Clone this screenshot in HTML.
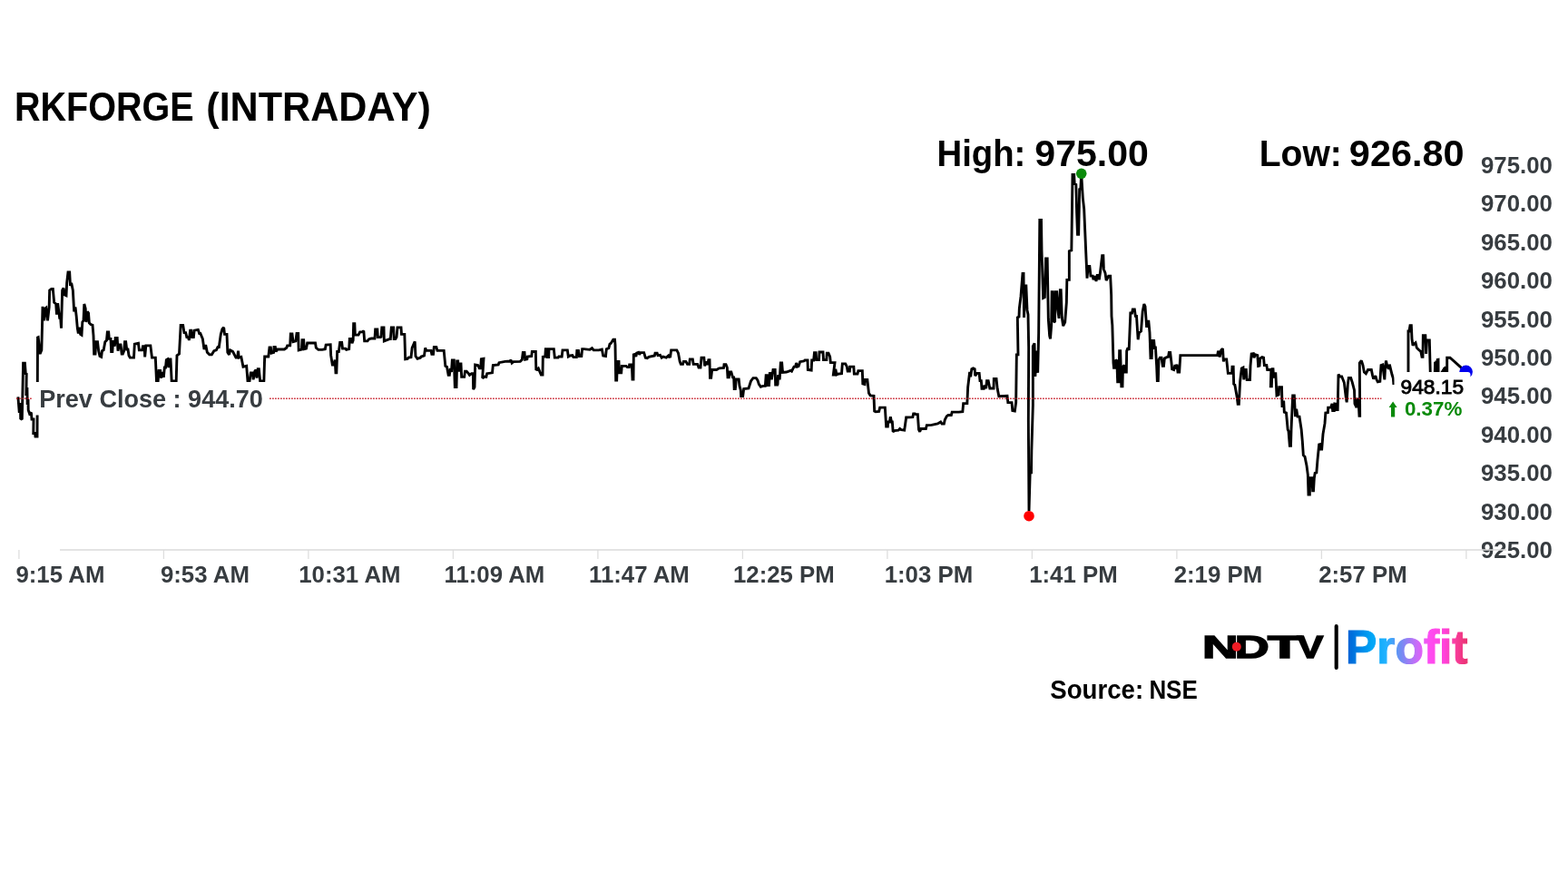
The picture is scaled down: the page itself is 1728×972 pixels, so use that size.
<!DOCTYPE html>
<html lang="en">
<head>
<meta charset="utf-8">
<title>RKFORGE (INTRADAY)</title>
<style>
html,body{margin:0;padding:0;background:#fff;}
body{width:1728px;height:972px;overflow:hidden;font-family:"Liberation Sans", sans-serif;}
svg{display:block;}
text{font-family:"Liberation Sans", sans-serif;}
.b{font-weight:700;}
.ax{font-weight:700;font-size:25.8px;fill:#373c40;}
</style>
</head>
<body>
<svg width="1728" height="972" viewBox="0 0 1728 972">
<defs>
<linearGradient id="pg" x1="1485" y1="0" x2="1618" y2="0" gradientUnits="userSpaceOnUse">
<stop offset="0" stop-color="#0062d6"/>
<stop offset="0.2" stop-color="#00a6f6"/>
<stop offset="0.32" stop-color="#22b2ff"/>
<stop offset="0.43" stop-color="#6a90f2"/>
<stop offset="0.58" stop-color="#cc6af8"/>
<stop offset="0.68" stop-color="#ff4cf2"/>
<stop offset="0.8" stop-color="#ff42dc"/>
<stop offset="0.9" stop-color="#f83c9a"/>
<stop offset="1" stop-color="#e8306c"/>
</linearGradient>
</defs>
<rect width="1728" height="972" fill="#fff"/>
<text class="b" y="133.3" font-size="45.2" fill="#000"><tspan x="15.99" textLength="197.65" lengthAdjust="spacingAndGlyphs">RKFORGE</tspan> <tspan x="227.29" textLength="247.52" lengthAdjust="spacingAndGlyphs">(INTRADAY)</tspan></text>
<text class="b" y="182.5" font-size="40" fill="#000"><tspan x="1032.47" textLength="97.90" lengthAdjust="spacingAndGlyphs">High:</tspan> <tspan x="1140.30" textLength="125.56" lengthAdjust="spacingAndGlyphs">975.00</tspan></text>
<text class="b" y="182.5" font-size="40" fill="#000"><tspan x="1387.73" textLength="91.00" lengthAdjust="spacingAndGlyphs">Low:</tspan> <tspan x="1486.89" textLength="126.79" lengthAdjust="spacingAndGlyphs">926.80</tspan></text>
<path d="M20.9 606V616M180.4 606V616M339.9 606V616M499.4 606V616M658.9 606V616M818.4 606V616M977.9 606V616M1137.4 606V616M1296.9 606V616M1456.4 606V616M1615.9 606V616" stroke="#dedede" stroke-width="1.3" fill="none"/>
<text class="ax" x="66.4" y="641.5" text-anchor="middle">9:15 AM</text>
<text class="ax" x="225.9" y="641.5" text-anchor="middle">9:53 AM</text>
<text class="ax" x="385.4" y="641.5" text-anchor="middle">10:31 AM</text>
<text class="ax" x="544.9" y="641.5" text-anchor="middle">11:09 AM</text>
<text class="ax" x="704.4" y="641.5" text-anchor="middle">11:47 AM</text>
<text class="ax" x="863.9" y="641.5" text-anchor="middle">12:25 PM</text>
<text class="ax" x="1023.4" y="641.5" text-anchor="middle">1:03 PM</text>
<text class="ax" x="1182.9" y="641.5" text-anchor="middle">1:41 PM</text>
<text class="ax" x="1342.4" y="641.5" text-anchor="middle">2:19 PM</text>
<text class="ax" x="1501.9" y="641.5" text-anchor="middle">2:57 PM</text>
<text class="ax" x="1632" y="191.0">975.00</text>
<text class="ax" x="1632" y="233.4">970.00</text>
<text class="ax" x="1632" y="275.8">965.00</text>
<text class="ax" x="1632" y="318.2">960.00</text>
<text class="ax" x="1632" y="360.6">955.00</text>
<text class="ax" x="1632" y="403.0">950.00</text>
<text class="ax" x="1632" y="445.4">945.00</text>
<text class="ax" x="1632" y="487.8">940.00</text>
<text class="ax" x="1632" y="530.2">935.00</text>
<text class="ax" x="1632" y="572.6">930.00</text>
<text class="ax" x="1632" y="615.0">925.00</text>
<path d="M66 606H1660" stroke="#dadada" stroke-width="1.6" fill="none"/>
<path d="M19.9 437.3 L21.3 455 L22.4 444 L22.7 461.3 L24.3 462.3 L25.6 400.3 L27.4 400.3 L28.3 412 L29.2 412.3 L28.9 436 L29.9 427 L30.2 446 L31 440 L31.2 452 L32.6 456 L34.4 454.5 L35 462 L37 462 L36.8 477.5 L38.5 477.5 L39 481 L41 481 L41.3 421 L41.5 372 L42.17 371.67 L44.17 390 L45.83 385.83 L47 337.83 L48.67 353.33 L49.67 340 L50.83 339.17 L52.5 353.33 L54.17 338.33 L54.67 320 L56.67 318.33 L58.33 318.33 L59.67 333.33 L61.67 335 L62.5 346.67 L63.67 334.17 L65.83 351.67 L66.33 345 L67.5 361.67 L68.67 320 L70 317.5 L71.33 325 L73 325.83 L73.67 311.67 L75 300 L76.67 300 L77.5 315 L78.67 311.67 L80.33 320 L81.67 343.33 L83 338.33 L84.17 348.33 L85.33 361.67 L86.33 367.5 L87.5 360.83 L88.67 368.33 L90 369.17 L90.83 355 L92 353.33 L92.83 335 L94.17 340 L95 355 L96.33 343.33 L97.5 345 L98.33 355.83 L100 357.5 L102 358.33 L103 370 L103.67 390 L105 390 L105.83 376.67 L107.5 376.67 L108.67 386.67 L110 392.5 L111.67 393.33 L112.5 386.67 L114.17 385.83 L115.83 376.67 L117.5 375 L118.33 365.83 L119.67 365.83 L120.33 373.33 L122 373.33 L122.67 387.5 L123.83 387.5 L124.67 375 L126.33 381.67 L127.17 372.5 L129.17 372.5 L130 386.67 L131.33 380 L133 380 L134.17 390 L135.33 390 L136.67 386.67 L137.5 376.67 L138.67 376.67 L139.67 385 L141 385 L142 391.67 L143.33 394.17 L147.5 394.17 L148.33 379.17 L152.5 378.33 L153.33 385.83 L156.67 385.83 L157.5 381.67 L159.17 381.67 L159.67 393.33 L160.83 380.83 L165.83 380.83 L167.5 394.17 L171.33 394.17 L172.5 420 L174.17 420 L175 408.33 L176.67 408.33 L177.5 416.67 L179.17 410 L180.33 415.83 L181.33 405 L182.5 405 L183.33 396.67 L184.67 395.83 L185.83 405 L186.67 395.83 L188 395.83 L189.17 420 L194.17 420 L195 391.67 L197.5 390 L199.17 358.33 L201.67 358.33 L203 366.67 L204.67 366.67 L205.83 371.67 L207.5 371.67 L208.33 375 L209.67 364.17 L210.83 364.17 L211.67 371.67 L213.33 371.67 L214.17 364.17 L218.33 363.33 L219.67 367.5 L220.83 367.5 L223.33 373.33 L225 385 L226.67 380 L228.33 388.33 L230.83 390.83 L233.33 390.83 L235.83 386.67 L238.33 385.83 L240 382.5 L241.33 382.5 L243.33 368.33 L245 362.5 L246.67 360.83 L247.5 368.33 L250 368.33 L250.83 388.33 L252.5 390.83 L253.67 385.83 L256.67 387.5 L258.33 390.83 L260 394.17 L261.67 394.17 L262.5 386.67 L263.33 394.17 L265.83 393.33 L268 404.17 L271.67 403.33 L273 420 L275 420 L276.33 410.83 L278.33 410.83 L279.17 418.33 L280.83 409.17 L282 407.5 L283 416.67 L284.17 406.67 L285.33 406.67 L286.67 420 L290 420 L290.83 420.83 L291.67 393 L295.83 393 L297 383 L298.33 383 L299.17 389.17 L301.67 388.33 L302 382.5 L303.33 382.5 L304.17 387.5 L305.83 385 L313.33 385 L315.83 383.33 L316.67 380.83 L319.67 380.83 L320.33 368 L322 368 L323 376.67 L325.83 375.83 L327 367.5 L328.67 367.5 L329.17 385.83 L332.5 385 L333 374.67 L334.67 374.67 L335.33 384.67 L337.5 384.17 L338.67 378 L347.5 378 L348.33 383.33 L350.83 385.33 L355 385.33 L358.33 384.67 L359.17 380 L364.17 379.67 L364.67 391.67 L366.33 402 L368 402 L369.17 396.67 L370 410.83 L370.83 410.83 L371.67 387.5 L373.33 387.5 L374.67 377.5 L376.67 377.5 L377.5 384.17 L380.83 384.17 L381.67 385.33 L384.67 384.67 L385.33 373.33 L387 373.33 L388 378.33 L389.17 375 L389.67 356.67 L390.83 356.67 L391.33 369.17 L395 369.17 L396.67 365.83 L399.17 365.83 L400.83 364.67 L401.67 375.83 L405 375.83 L406.67 373.67 L409.17 373 L413 373 L413.67 363 L415.83 363 L416.33 371.67 L419.17 371.67 L420 371.33 L420.83 360.83 L423 360.83 L423.33 375.83 L429.17 373.67 L430.33 373.67 L431.33 360.83 L433.67 360.83 L434.17 373.67 L435.83 373.67 L437 371.67 L438 360.83 L442 360.83 L442.5 368.33 L445.83 368.33 L446.67 395.83 L449.17 395.33 L450 394.17 L453 393.67 L454.17 383.33 L457.17 376.33 L458 392.5 L460 395.33 L463.33 394.17 L464.17 393 L467.5 392 L468.67 383.33 L469.67 386.33 L475 386.33 L475.83 390.33 L477.5 390.33 L478.33 382.5 L480.83 382.5 L482 386.33 L489.17 386.33 L490.83 403.33 L492.5 404.17 L494.17 413.33 L495.33 413.33 L496.33 405.83 L497.5 410 L498.33 397 L500.33 397 L501.33 426.67 L503 426.67 L503.67 398 L504.67 398 L505 408.33 L506.33 408.33 L507 400.83 L508 400.83 L508.67 415.33 L511.67 415.33 L512.5 409.17 L514.17 409.17 L516.33 411.67 L517.5 413.33 L519.67 411.67 L521.33 411.67 L521.67 429.17 L523 426.67 L523.67 402 L526.67 402.5 L528.33 405.83 L529.67 405.83 L530.33 395.83 L533 395.33 L531.67 416.67 L534.17 415 L535.83 415.33 L536.67 411.67 L542.5 410.83 L543.33 402.5 L549.17 402 L550 399.67 L556.67 398.33 L562 398 L563 396.67 L564.17 400 L565.83 398.67 L573.33 398.33 L575.33 396.33 L576.33 388.33 L578 388.33 L578 388.33 L578.67 396.33 L580.83 395.83 L581.33 393 L585.83 392.5 L586.33 387.5 L590.33 387.5 L590.83 408 L593.33 405.83 L595 410 L596.33 413 L598 413 L598.33 393.33 L600.83 393 L601.33 384.67 L603 384.67 L603.33 393.67 L604.67 393.67 L605 384.67 L610.33 384.67 L611.33 394.17 L615 394.17 L615.83 393 L619.17 393 L620 385.83 L625.33 385.83 L626.33 393 L628.33 392 L630.83 391.67 L632 393.67 L635.33 393.67 L635.83 386.33 L637.5 386.33 L638.33 392.5 L640.83 392.5 L641.67 384.67 L643.33 384.67 L650 385.33 L652.5 383.67 L654.17 385.83 L660 385.83 L663.33 385 L664.67 392 L667.5 392.5 L668.33 384.67 L670.83 383.67 L672 379.17 L673.33 378.33 L675.83 374.17 L677.5 374.17 L678 380 L678.67 419.17 L679.67 419.17 L680.33 398.33 L682 398.33 L682.5 410.83 L684.67 410.83 L685.33 403.33 L690 403.33 L691.33 404.67 L693.33 404.67 L693.67 402 L696.33 402 L697 418 L698 418 L698.33 390.83 L700 390.33 L700.83 393 L701.67 389.17 L703.67 388.33 L704.67 390.83 L705.83 388.67 L709.67 388.67 L711.33 394.17 L713.33 394.67 L715 393.33 L721.33 392 L722 389.17 L724.17 389.17 L725 391.67 L727.5 391.33 L729.17 394.17 L730.83 393 L734.17 394.17 L736.67 392 L737.5 393.33 L738.67 393 L739.67 385.83 L745.83 385.83 L747.5 389.17 L749.17 398.33 L750.33 401.33 L752.5 401.33 L753.33 398.33 L755.83 398.33 L757.5 401.33 L759.67 401.33 L760.33 395.83 L763.33 395.83 L764.17 401.33 L768.67 401.33 L770 405 L772 405 L773 394.17 L775.83 394.17 L776.67 403.33 L778 398.33 L779.67 402 L780.83 396.67 L782 396.67 L782.5 416.33 L783.67 416.33 L784.67 407.5 L789.67 407.5 L792.5 405.83 L797.5 405.33 L798 401.67 L800 401.67 L801.33 405 L802 415.83 L803.33 415.83 L804.17 410 L805.83 410 L807.5 415.83 L808.67 415.83 L809.17 428.67 L810.33 428.67 L811.33 418 L814.17 418 L815 425.33 L816.33 430 L816.67 436.67 L818.67 436.67 L819.67 428.67 L825 428 L827.5 420 L830 416.67 L833.33 416.67 L835 419.17 L836.33 423.33 L838.33 426.33 L840.83 425.33 L843.33 425.33 L844.17 413.67 L845.33 413.67 L845.83 424.67 L847.5 424.67 L848.33 411.33 L850 411.33 L850.33 418.33 L852 407.5 L854.17 407.5 L854.67 424.17 L858 424.17 L857 424.17 L857.5 413.33 L859.17 418.33 L860.33 400 L861.67 400 L862.5 410.33 L866.67 410 L871.33 408.33 L872.5 409.17 L875 404.17 L876.67 404.17 L877.5 400 L878.67 404.17 L880 403.67 L881.67 398.67 L885.83 398 L887 397 L890 397 L890.33 407.5 L894.17 408 L894.67 397 L896.67 397 L897.5 388.67 L899.17 388.67 L899.67 396.67 L902.5 396.67 L903 388 L907 388 L907.5 396.67 L910.83 396.67 L911.33 389.17 L913 389.17 L914.67 393 L915.33 399.67 L920 399.67 L918.33 413 L920 413 L920.83 406.67 L922 413 L924.17 412 L927.5 411.67 L928.33 400.83 L931.67 400.83 L933.33 404.17 L934.17 409.17 L936.33 409.17 L936.67 404.17 L940.83 404.17 L941.33 412 L945 412 L945.83 408.67 L950.33 408.67 L950.83 423 L953 423.67 L953.33 418.33 L955.83 418.33 L957.5 433.33 L959.17 435.83 L963 436.33 L963.67 453 L965 453.67 L968.67 453.33 L969.67 449.17 L975.33 449.17 L976.67 470 L978.33 470 L978.67 465 L980.33 465 L981.33 459.17 L982.5 465 L983.33 465 L984.17 475.83 L985.83 474.67 L990 474.17 L991.67 472.5 L993.33 473.67 L996.67 474.17 L998.67 460 L1005.83 459.67 L1006.67 455.83 L1008.33 455.83 L1009.17 456.67 L1011.33 456.67 L1012.5 473.33 L1013.67 475.83 L1015 472.5 L1020.33 472.5 L1021.33 468.67 L1026.67 468.33 L1033.33 467 L1036.67 465 L1038 467 L1040.33 467 L1041.33 462.5 L1043.33 458.67 L1045 457.5 L1048.33 457.5 L1049.17 454.17 L1056.67 454.17 L1060.83 453.67 L1061.67 444.67 L1065.83 444.67 L1066.67 426.67 L1068.67 410 L1069.67 415.33 L1070.83 406.67 L1072.5 405.83 L1074.17 406.67 L1074.67 414.17 L1076.67 411.33 L1079.17 411.33 L1080 419.67 L1081.33 419.67 L1082 428.33 L1084.17 428.33 L1084.67 424.67 L1086.67 428 L1087.5 419.67 L1089.17 419.67 L1090.83 428 L1095 428 L1095.33 417.5 L1098 417.5 L1099.17 428.33 L1100.83 436.67 L1110 436.33 L1110.83 443.67 L1115 443.67 L1115.83 452.5 L1118.33 453 L1119.67 443.33 L1120.33 390.83 L1122 390.83 L1121.33 350 L1123 349.17 L1123.33 340 L1125 326.67 L1127 301.33 L1128 301.33 L1128.5 350 L1130 315 L1130.83 315 L1132 341.67 L1133 346.67 L1133.67 383.33 L1133.33 463.33 L1134 563.33 L1135.17 520.83 L1136.5 520.83 L1136.83 496.67 L1138.33 446.67 L1138.33 381.67 L1140 378.33 L1140.83 415 L1142.5 386.67 L1143.67 410.83 L1144.67 366.67 L1145.83 242.5 L1147.5 242.5 L1148 276.67 L1149.67 328.33 L1151.33 327.5 L1152.5 285 L1154.17 285 L1155.33 351.67 L1156.67 370 L1157.5 373.33 L1158.67 358.33 L1159.17 321.67 L1160.33 321.67 L1161.33 355 L1162.5 354.17 L1163.33 321.67 L1164.67 321.67 L1165.83 341.67 L1167 350.83 L1168.33 319.67 L1169.17 319.67 L1170.33 350 L1171.67 359.17 L1173.67 355 L1175.33 333.33 L1175.83 308.33 L1178.33 308.33 L1178.33 276.67 L1180.83 275.83 L1182 192.5 L1183.67 192.5 L1184.17 202.5 L1185.83 203.33 L1186.67 235 L1187.5 258.33 L1188.67 258.33 L1189.67 208.67 L1190.83 208.33 L1191.67 191.33 L1193.33 218.33 L1194.67 230 L1196.67 276.67 L1198 306.67 L1199.17 293.33 L1200.83 293.33 L1202 304.17 L1204.17 304.17 L1205 308.33 L1206.67 304.17 L1208 310 L1209.17 303.33 L1210.33 303.33 L1211.33 308.33 L1212.5 300 L1214.67 281.67 L1215.83 281.67 L1216.33 296.67 L1218 300.83 L1219.17 309.17 L1221.67 304.17 L1223.67 304.17 L1224.67 325 L1225 348.33 L1225.83 358.33 L1227 400 L1227.5 405.33 L1229.17 405.33 L1229.67 396.67 L1230.83 397.5 L1231.67 420.83 L1233 420.83 L1233.67 386.67 L1234.67 386.67 L1235.83 425.83 L1237 425.83 L1237.5 404.17 L1239.17 402.5 L1240 410 L1241.33 410 L1241.67 386.67 L1243 383.33 L1244.17 385.83 L1245.83 345 L1247.5 345 L1248.33 340.83 L1250.33 340.83 L1251.33 348.33 L1252.5 348.33 L1254.17 374.17 L1255.33 366.67 L1257.5 365 L1259.17 343.33 L1260.83 335 L1262 337.5 L1263.67 360.83 L1264.67 354.17 L1265.83 354.17 L1267 366.67 L1268 394.67 L1269.17 394.67 L1270 375.33 L1271.67 375.33 L1272.5 385 L1273.33 381.67 L1274.67 403.33 L1275.33 419.67 L1276.33 419.67 L1277 396.67 L1278.33 394.17 L1280 394.17 L1281.33 403.33 L1282.5 403.33 L1283.33 395 L1285.83 393.67 L1287.5 393.33 L1288.33 388.33 L1289.67 388.33 L1290.83 398.33 L1291.67 406.67 L1293.67 407.5 L1295 402 L1295.83 406.67 L1297 401.67 L1298 410 L1299.67 410 L1300.83 391.67 L1341.67 391.67 L1342.5 386.67 L1344.17 393.33 L1345.83 385.83 L1347.5 384.17 L1348.33 398.33 L1349.17 395.83 L1351.67 395.83 L1353.33 411.33 L1357.5 411.33 L1358 404.17 L1359.17 404.17 L1359.67 423.33 L1360.83 424.17 L1363.33 438.33 L1364.17 445.33 L1365.33 445.33 L1366.67 420 L1368.33 405.83 L1370 405 L1370.83 418.33 L1372 407.5 L1373.33 407.5 L1374.17 418.67 L1377.5 418.67 L1378 403.33 L1379.17 390 L1381.33 389.67 L1382 394.17 L1383.33 390.83 L1385.83 391.67 L1386.67 403.33 L1388 403 L1388.67 395 L1390.83 393.67 L1392.5 394.17 L1393.33 402.5 L1395.83 402.5 L1396.67 407.5 L1400.83 407.5 L1400.33 425.83 L1401.33 425.83 L1402 406.67 L1403 406.67 L1403.67 416.67 L1404.17 411.67 L1405.83 411.67 L1407 435.83 L1409.17 435 L1409.67 426.67 L1412.5 426.67 L1413 447.5 L1414.17 447.5 L1414.67 441.67 L1415.33 454.17 L1417.5 455 L1419.17 473.33 L1420 475 L1421.33 491.33 L1422.5 491.33 L1423 473.33 L1424.67 435.83 L1426.33 435.83 L1427.5 459.17 L1428.67 450.83 L1430 459.17 L1432 459.17 L1434.17 473.33 L1435.33 486.67 L1436.33 501.67 L1438 503.33 L1440 513.33 L1441.33 523.33 L1442 545 L1443.33 545 L1443.67 526.67 L1445.83 526.67 L1446.67 540.83 L1447.5 540.83 L1448.33 526.67 L1449.17 521.33 L1450.83 520.83 L1452 506.67 L1453.67 490 L1455 489.67 L1455.33 495 L1456.67 495 L1458 478.33 L1460 466.67 L1460.83 455 L1463.33 454.67 L1463.67 449.17 L1466.67 449.17 L1468 445 L1468.67 452.5 L1470.33 452.5 L1470.83 445 L1472.5 445.33 L1473 451.67 L1474.17 451.67 L1475 412.5 L1476.67 415 L1478.67 415 L1480 418.33 L1481.33 421.67 L1483.33 438.33 L1484.17 443.33 L1485.33 423.33 L1486.33 416.33 L1488.67 416.33 L1490.33 421.67 L1492.5 430 L1493 445 L1495 449.17 L1495.83 440 L1497 440 L1498 458.33 L1498.67 458.33 L1498.33 400 L1500.33 397.5 L1502 402.5 L1503.33 410 L1505.33 411.67 L1507.5 407.5 L1511.33 407.5 L1512.5 413.33 L1513.67 417.5 L1515.83 414.17 L1517 418.33 L1518.33 420.83 L1520.83 420.33 L1522 402.5 L1523.67 402 L1525.83 418.33 L1526.67 403.33 L1527.5 397.5 L1528.67 403.33 L1530.33 406.67 L1531.33 401.67 L1532.5 406.67 L1534.17 413.33 L1535.33 416.67 L1535.83 422.5 L1545 422.5 L1552 418.33 L1552 365 L1553 365 L1554 358.67 L1555.33 358.67 L1556 373.33 L1557 380.83 L1558 379.17 L1560 377.67 L1561.33 383.33 L1563 385 L1565.83 387.5 L1567 393.33 L1568 393.33 L1568.33 369.67 L1570.83 369.67 L1571.67 390 L1572.5 375 L1575.33 375 L1576.33 413.33 L1581.2 413 L1581.6 398.8 L1582.3 412 L1582.9 397.6 L1583.6 412 L1584.2 396.5 L1585 396.3 L1585.1 413 L1589 413 L1589.3 408.5 L1590 413 L1590.5 406.8 L1591.2 413 L1591.7 405.2 L1592.4 413 L1592.9 403.8 L1593.6 413 L1594.7 412 L1594.7 394.2 L1598 394.2 L1615.6 409.8" fill="none" stroke="#000" stroke-width="2.9" stroke-linejoin="miter" stroke-miterlimit="2" stroke-linecap="butt"/>
<path d="M18.15 439.3H1616" stroke="#ff1020" stroke-opacity="0.7" stroke-width="1.5" stroke-dasharray="1.5 1.5" fill="none"/>
<path d="M18.35 439.3H1616" stroke="#8a0a16" stroke-width="1.1" stroke-dasharray="1.1 1.9" fill="none"/>
<circle cx="1191.7" cy="191.3" r="5.8" fill="#0a8a0a"/>
<circle cx="1134" cy="568.7" r="5.8" fill="#ff0000"/>
<circle cx="1615.6" cy="409.8" r="7.3" fill="#0000ee"/>
<rect x="36" y="421" width="261" height="36.5" rx="3" fill="#fff"/>
<text class="b" x="43.21" y="449.2" font-size="27" fill="#373c40" textLength="246.66" lengthAdjust="spacingAndGlyphs">Prev Close : 944.70</text>
<rect x="1536.5" y="410" width="84" height="30" rx="3" fill="#fff"/>
<rect x="1522.5" y="436" width="98" height="28" rx="3" fill="#fff"/>
<text x="1543.55" y="434.4" font-size="22.5" fill="#000" textLength="69.49" lengthAdjust="spacingAndGlyphs" stroke="#000" stroke-width="0.9">948.15</text>
<path d="M1535.1 442.4l4.5 6.6h-2.4v10.6h-4.2v-10.6h-2.4z" fill="#0a8a0a"/>
<text class="b" x="1547.88" y="458.4" font-size="22.5" fill="#0a8a0a" textLength="63.52" lengthAdjust="spacingAndGlyphs">0.37%</text>
<text class="b" y="724.85" font-size="35.5" fill="#000" stroke="#000" stroke-width="1.5" stroke-linejoin="miter"><tspan x="1325.03" textLength="39.60" lengthAdjust="spacingAndGlyphs">N</tspan><tspan x="1360.78" textLength="37.93" lengthAdjust="spacingAndGlyphs">D</tspan><tspan x="1396.92" textLength="37.69" lengthAdjust="spacingAndGlyphs">T</tspan><tspan x="1429.54" textLength="28.82" lengthAdjust="spacingAndGlyphs">V</tspan></text>
<circle cx="1362.8" cy="712.7" r="5" fill="#ee1c25"/>
<path d="M1472.7 690V736" stroke="#000" stroke-width="4.1" stroke-linecap="round"/>
<text class="b" x="1483.00" y="731.2" font-size="52.5" fill="url(#pg)" textLength="134.51" lengthAdjust="spacingAndGlyphs" stroke="url(#pg)" stroke-width="1.2">Profit</text>
<text class="b" y="769.75" font-size="29.8" fill="#000"><tspan x="1157.33" textLength="102.83" lengthAdjust="spacingAndGlyphs">Source:</tspan> <tspan x="1266.39" textLength="53.38" lengthAdjust="spacingAndGlyphs">NSE</tspan></text>
</svg>
</body>
</html>
